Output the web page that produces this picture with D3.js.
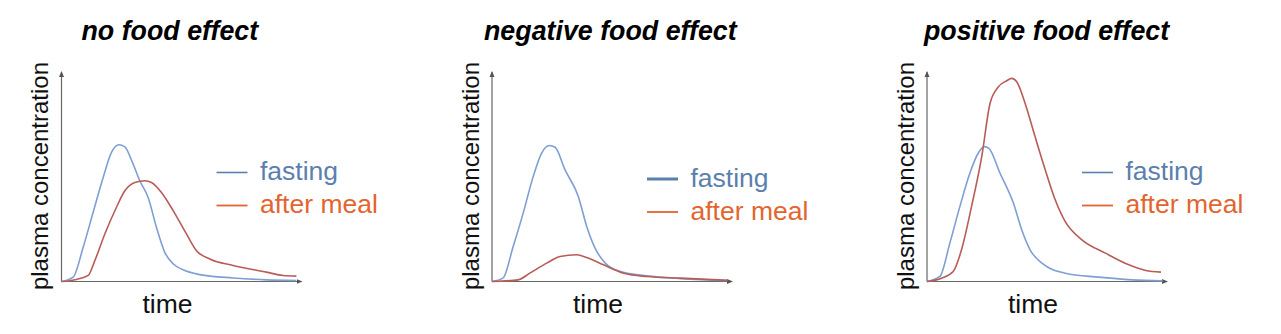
<!DOCTYPE html>
<html>
<head>
<meta charset="utf-8">
<script src="https://cdn.jsdelivr.net/npm/d3@7"></script>
<style>
  body { margin: 0; background: #fff; }
  text { font-family: "Liberation Sans", Arial, sans-serif; }
</style>
</head>
<body>
<div id="chart"></div>
<script>
const w = 1281;
const h = 334;

// panel titles
const titles = ['no food effect', 'negative food effect', 'positive food effect'];
const seriesNames = ['fasting', 'after meal'];

// time in arbitrary units (0-10), concentration in % of axis height
const fastNone = [[0,0],[0.49,2.1],[0.91,16.4],[1.33,33.2],[1.75,49.9],[2.1,61.9],[2.41,65.6],[2.66,64.6],
  [3.01,56.3],[3.29,48.3],[3.64,40.3],[3.99,26],[4.34,14],[4.69,8.5],[5.11,5.6],[5.81,3.3],[7.21,1.7],[8.61,0.8],[9.87,0.5]];
const mealNone = [[0,0],[0.63,1],[1.12,2.9],[1.4,10],[1.82,22.8],[2.31,35.6],[2.66,43.5],[3.08,47.5],[3.5,48.3],
  [3.78,47.5],[4.2,42.7],[4.69,34],[5.25,22.8],[5.67,14.8],[6.23,10.8],[7.21,7.7],[8.61,4.5],[9.31,2.9],[9.87,2.6]];

const fastNeg = [[0,0],[0.46,1.6],[0.89,16.8],[1.31,32.8],[1.73,50.3],[2.08,61.5],[2.41,65.2],[2.65,64.4],
  [3.07,53.5],[3.63,40.7],[3.98,26.4],[4.33,16],[4.76,8.8],[5.39,4.8],[6.51,2.7],[7.92,1.4],[9.89,0.5]];
const mealNeg = [[0,0],[1.1,0.8],[1.59,4],[2.3,8.8],[2.86,12],[3.56,12.8],[3.98,11.5],[4.68,8],[5.53,4],
  [6.51,2.4],[7.92,1.6],[9.89,0.6]];

const fastPos = [[0,0],[0.54,2.4],[0.96,18.4],[1.38,35.9],[1.8,51.9],[2.15,61.5],[2.41,64.7],[2.6,63.9],
  [3.07,51.9],[3.63,37.6],[3.98,24.8],[4.33,15.2],[4.83,8.8],[5.81,4],[7.21,2.1],[8.62,0.8],[9.9,0.3]];
const mealPos = [[0,0],[0.61,1.6],[1.1,4.8],[1.45,15.2],[1.87,35.9],[2.3,59.9],[2.65,85.5],[3,93.4],[3.35,96.3],
  [3.56,97.4],[3.77,95.8],[4.12,85.5],[4.54,69.5],[4.97,53.5],[5.39,39.1],[5.81,28.7],[6.51,20],[7.5,13.6],
  [8.48,8],[9.19,5.3],[9.83,4.5]];

const fastingData = [fastNone, fastNeg, fastPos];
const mealData = [mealNone, mealNeg, mealPos];

// layout of each panel
const originX = [61.5, 492, 927];
const titleDx = [20, -8, -3];
const legendY = [172.5, 179, 172.5];
const legendW = [1.6, 3, 1.6];

const lineColors = ['#7f9fd3', '#b85c58'];
const legendColors = ['#5b7fae', '#e2652f'];

const axisW = 238;
const y0 = 281.5;
const yTop = 73;

const svg = d3.select('#chart')
  .append('svg')
  .attr('width', w)
  .attr('height', h);

svg.append('defs').append('marker')
  .attr('id', 'arrow')
  .attr('viewBox', '0 0 6 6')
  .attr('refX', 5)
  .attr('refY', 3)
  .attr('markerWidth', 6)
  .attr('markerHeight', 6)
  .attr('markerUnits', 'userSpaceOnUse')
  .attr('orient', 'auto')
  .append('path')
  .attr('d', 'M0,0.5L6,3L0,5.5Z')
  .attr('fill', '#555');

titles.forEach(function(title, i) {
  const ox = originX[i];
  const g = svg.append('g');

  let xScale = d3.scaleLinear()
    .domain([0, 10])
    .range([ox, ox + axisW]);

  let yScale = d3.scaleLinear()
    .domain([0, 100])
    .range([y0, yTop]);

  // axes with arrow heads
  g.append('line')
    .attr('x1', xScale(0)).attr('y1', yScale(0))
    .attr('x2', xScale(0)).attr('y2', yScale(100) - 1)
    .attr('stroke', '#666')
    .attr('stroke-width', 1.2)
    .attr('marker-end', 'url(#arrow)');

  g.append('line')
    .attr('x1', xScale(0)).attr('y1', yScale(0))
    .attr('x2', xScale(10) + 2).attr('y2', yScale(0))
    .attr('stroke', '#666')
    .attr('stroke-width', 1.2)
    .attr('marker-end', 'url(#arrow)');

  const line = d3.line()
    .x(function(d) { return xScale(d[0]); })
    .y(function(d) { return yScale(d[1]); })
    .curve(d3.curveMonotoneX);

  [fastingData[i], mealData[i]].forEach(function(data, k) {
    g.append('path')
      .datum(data)
      .attr('d', line)
      .attr('fill', 'none')
      .attr('stroke', lineColors[k])
      .attr('stroke-width', 1.6)
      .attr('stroke-linejoin', 'round');
  });

  // title
  g.append('text')
    .attr('x', ox + titleDx[i])
    .attr('y', 40)
    .attr('font-size', '26.8px')
    .attr('font-weight', 'bold')
    .attr('font-style', 'italic')
    .attr('fill', '#000')
    .text(title);

  // axis labels
  g.append('text')
    .attr('x', ox + 106)
    .attr('y', 313)
    .attr('text-anchor', 'middle')
    .attr('font-size', '26.5px')
    .attr('fill', '#111')
    .text('time');

  g.append('text')
    .attr('transform', 'translate(' + (ox - 13.5) + ',' + 176 + ') rotate(-90)')
    .attr('text-anchor', 'middle')
    .attr('font-size', '24px')
    .attr('fill', '#111')
    .text('plasma concentration');

  // legend
  seriesNames.forEach(function(name, k) {
    const ly = legendY[i] + k * 33;
    g.append('line')
      .attr('x1', ox + 155).attr('x2', ox + 186)
      .attr('y1', ly).attr('y2', ly)
      .attr('stroke', legendColors[k])
      .attr('stroke-width', k === 0 ? legendW[i] : 1.8);
    g.append('text')
      .attr('x', ox + 198.5)
      .attr('y', ly + 7.5)
      .attr('font-size', '26.5px')
      .attr('fill', legendColors[k])
      .text(name);
  });
});
</script>
</body>
</html>
